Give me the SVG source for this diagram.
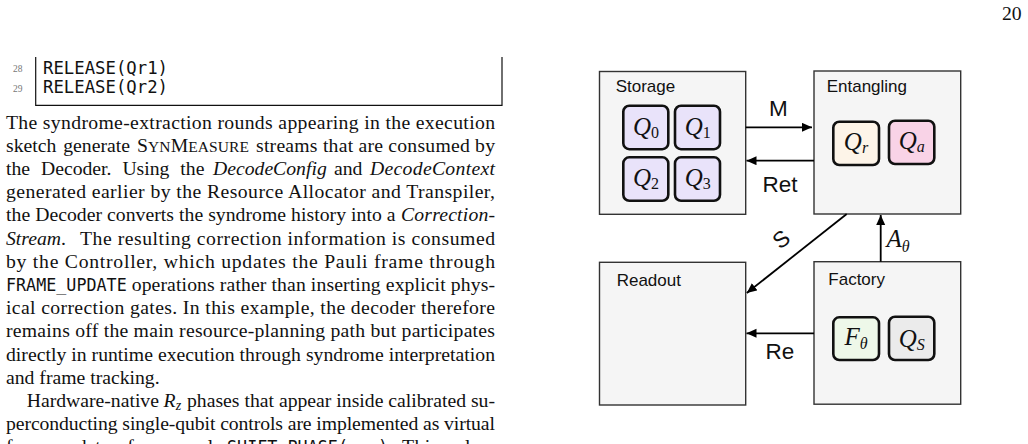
<svg xmlns="http://www.w3.org/2000/svg" width="1028" height="444" viewBox="0 0 1028 444">
<style>
.t{font-family:"Liberation Serif","Times New Roman",serif;font-size:19.7px;fill:#111}
.i{font-style:italic}
.m{font-family:"DejaVu Sans Mono","Liberation Mono",monospace;fill:#111}
.ln{font-family:"Liberation Serif",serif;font-size:9.5px;fill:#777}
.box{fill:#f5f5f5;stroke:#333;stroke-width:1.4}
.q{stroke:#111;stroke-width:2.6}
.lbl{font-family:"Liberation Sans",Arial,sans-serif;font-size:17px;fill:#111}
.al{font-family:"Liberation Sans",Arial,sans-serif;font-size:22.5px;fill:#111}
.ql{font-family:"Liberation Serif","Times New Roman",serif;font-style:italic;font-size:25px;fill:#111;text-anchor:middle}
.sub{font-size:16px}
.arr{stroke:#000;stroke-width:1.8;fill:none;marker-end:url(#ah)}
</style>
<defs>
<marker id="ah" markerUnits="userSpaceOnUse" markerWidth="11" markerHeight="10" refX="10" refY="4.5" orient="auto">
<path d="M0,0 L10,4.5 L0,9 z" fill="#000"/>
</marker>
</defs>

<!-- page number -->
<text class="t" x="1002" y="19.5">20</text>

<!-- code listing tail -->
<g id="code">
<path d="M35.7,57 V105.3 H502 V57" fill="none" stroke="#111" stroke-width="1.2"/>
<text class="ln" x="13" y="72">28</text>
<text class="ln" x="13" y="91.5">29</text>
<text class="m" x="43" y="73.5" font-size="17.3" textLength="125" lengthAdjust="spacingAndGlyphs">RELEASE(Qr1)</text>
<text class="m" x="43" y="93" font-size="17.3" textLength="125" lengthAdjust="spacingAndGlyphs">RELEASE(Qr2)</text>
</g>

<!-- body text -->
<g id="body">
<text class="t" x="6" y="128.5" textLength="489" lengthAdjust="spacing">The syndrome-extraction rounds appearing in the execution</text>
<text class="t" x="6" y="151.7" word-spacing="2">sketch generate</text>
<text class="t" x="137" y="151.7" textLength="112" lengthAdjust="spacing">S<tspan font-size="15.5">YN</tspan>M<tspan font-size="15.5">EASURE</tspan></text>
<text class="t" x="256" y="151.7" textLength="239" lengthAdjust="spacing">streams that are consumed by</text>
<text class="t" x="6" y="174.9" word-spacing="6">the Decoder. Using the</text>
<text class="t i" x="213" y="174.9">DecodeConfig</text>
<text class="t" x="334" y="174.9">and</text>
<text class="t i" x="370" y="174.9" textLength="125" lengthAdjust="spacing">DecodeContext</text>
<text class="t" x="6" y="198.1" textLength="489" lengthAdjust="spacing">generated earlier by the Resource Allocator and Transpiler,</text>
<text class="t" x="6" y="221.3" textLength="389.5" lengthAdjust="spacing">the Decoder converts the syndrome history into a</text>
<text class="t i" x="401" y="221.3" textLength="94" lengthAdjust="spacing">Correction-</text>
<text class="t" x="6" y="244.5"><tspan class="i">Stream</tspan>.</text>
<text class="t" x="80" y="244.5" textLength="415" lengthAdjust="spacing">The resulting correction information is consumed</text>
<text class="t" x="6" y="267.7" textLength="489" lengthAdjust="spacing">by the Controller, which updates the Pauli frame through</text>
<text class="m" x="6" y="290.9" font-size="16.8" textLength="120.7" lengthAdjust="spacingAndGlyphs">FRAME_UPDATE</text>
<text class="t" x="131.7" y="290.9" textLength="363.3" lengthAdjust="spacing">operations rather than inserting explicit phys-</text>
<text class="t" x="6" y="314.1" textLength="489" lengthAdjust="spacing">ical correction gates.  In this example, the decoder therefore</text>
<text class="t" x="6" y="337.3" textLength="489" lengthAdjust="spacing">remains off the main resource-planning path but participates</text>
<text class="t" x="6" y="360.5" textLength="489" lengthAdjust="spacing">directly in runtime execution through syndrome interpretation</text>
<text class="t" x="6" y="383.7">and frame tracking.</text>
<text class="t" x="26.7" y="406.9">Hardware-native</text>
<text class="t i" x="163.6" y="406.9">R<tspan font-size="14" dy="3">z</tspan></text>
<text class="t" x="187" y="406.9" textLength="308" lengthAdjust="spacing">phases that appear inside calibrated su-</text>
<text class="t" x="6" y="430.1" textLength="489" lengthAdjust="spacing">perconducting single-qubit controls are implemented as virtual</text>
<text class="t" x="6" y="453.3" textLength="216" lengthAdjust="spacing">frame updates, for example</text>
<text class="m" x="227" y="453.3" font-size="16.8" textLength="121" lengthAdjust="spacingAndGlyphs">SHIFT_PHASE(</text>
<text class="t i" x="349" y="453.3">q, φ</text>
<text class="m" x="378" y="453.3" font-size="16.8">)</text>
<text class="t" x="388" y="453.3">.</text>
<text class="t" x="402" y="453.3" textLength="93" lengthAdjust="spacing">This pulse-</text>
</g>

<!-- diagram nodes -->
<g id="storage">
<rect class="box" x="599.5" y="71.5" width="146.2" height="142.8"/>
<text class="lbl" x="615.7" y="91.7">Storage</text>
<rect class="q" x="623.3" y="105.7" width="45" height="43.5" rx="6" fill="#e9e3fa"/>
<rect class="q" x="675" y="105.7" width="45" height="43.5" rx="6" fill="#e9e3fa"/>
<rect class="q" x="623.3" y="157.3" width="45" height="43.5" rx="6" fill="#e9e3fa"/>
<rect class="q" x="675" y="157.3" width="45" height="43.5" rx="6" fill="#e9e3fa"/>
<text class="ql" x="646" y="134.5">Q<tspan class="sub" font-style="normal" dy="3">0</tspan></text>
<text class="ql" x="697.7" y="134.5">Q<tspan class="sub" font-style="normal" dy="3">1</tspan></text>
<text class="ql" x="646" y="186.2">Q<tspan class="sub" font-style="normal" dy="3">2</tspan></text>
<text class="ql" x="697.7" y="186.2">Q<tspan class="sub" font-style="normal" dy="3">3</tspan></text>
</g>

<g id="entangling">
<rect class="box" x="814" y="71" width="146.7" height="143"/>
<text class="lbl" x="826.7" y="91.7">Entangling</text>
<rect class="q" x="833.3" y="121.7" width="45.7" height="43.3" rx="6" fill="#fdf4e8"/>
<rect class="q" x="889" y="120.7" width="45.3" height="43.3" rx="6" fill="#f9d3e7"/>
<text class="ql" x="856" y="150">Q<tspan class="sub" dy="3">r</tspan></text>
<text class="ql" x="911.7" y="149">Q<tspan class="sub" dy="3">a</tspan></text>
</g>

<g id="readout">
<rect class="box" x="599.5" y="262.3" width="146.2" height="142.7"/>
<text class="lbl" x="616.7" y="285.7">Readout</text>
</g>

<g id="factory">
<rect class="box" x="814" y="261.7" width="146.7" height="142.5"/>
<text class="lbl" x="828.3" y="285">Factory</text>
<rect class="q" x="833.3" y="317.3" width="45.7" height="42.7" rx="6" fill="#eef8e9"/>
<rect class="q" x="889" y="316.7" width="45.3" height="43.3" rx="6" fill="#ebebeb"/>
<text class="ql" x="856" y="344.5">F<tspan class="sub" dy="4">θ</tspan></text>
<text class="ql" x="911.7" y="346.5">Q<tspan class="sub" dy="3">S</tspan></text>
</g>

<!-- connectors -->
<g id="connectors">
<line class="arr" x1="745.7" y1="127.3" x2="812" y2="127.3"/>
<text class="al" x="778.3" y="116" text-anchor="middle">M</text>
<line class="arr" x1="814" y1="160.7" x2="746.5" y2="160.7"/>
<text class="al" x="780" y="191.7" text-anchor="middle">Ret</text>
<line class="arr" x1="846.7" y1="214" x2="746.8" y2="293"/>
<text class="al" x="781" y="247" text-anchor="middle" transform="rotate(-38 781 239)">S</text>
<line class="arr" x1="880.7" y1="261.7" x2="880.7" y2="215"/>
<text class="ql" x="898" y="246.7">A<tspan class="sub" dy="5">θ</tspan></text>
<line class="arr" x1="814" y1="333.3" x2="746.5" y2="333.3"/>
<text class="al" x="780" y="359.3" text-anchor="middle">Re</text>
</g>
</svg>
